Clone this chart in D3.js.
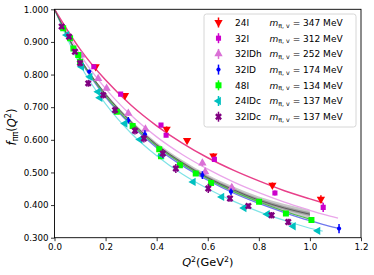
<!DOCTYPE html>
<html><head><meta charset="utf-8">
<script src="https://cdn.jsdelivr.net/npm/d3@7"></script>
<style>body{margin:0;background:#fff}svg{display:block}</style>
</head><body><svg id="c" width="374" height="275"></svg>
<script>
// ---- data ----
const xTicks = [0.0, 0.2, 0.4, 0.6, 0.8, 1.0, 1.2];
const yTicks = [0.3, 0.4, 0.5, 0.6, 0.7, 0.8, 0.9, 1.0];

const ensembles = ["24I", "32I", "32IDh", "32ID", "48I", "24IDc", "32IDc"];
const pionMass = [347, 312, 252, 174, 134, 137, 137];

const q2_24I = [0.161, 0.276, 0.439, 0.519, 0.622, 0.853, 1.043];
const f_24I  = [0.824, 0.736, 0.633, 0.598, 0.551, 0.461, 0.418];
const e_24I  = [0.006, 0.006, 0.008, 0.006, 0.008, 0.008, 0.012];

const q2_32I = [0.154, 0.259, 0.417, 0.437, 0.626, 0.863, 1.052];
const f_32I  = [0.824, 0.740, 0.645, 0.614, 0.540, 0.437, 0.393];
const e_32I  = [0.005, 0.006, 0.006, 0.006, 0.008, 0.008, 0.014];

const q2_32IDh = [0.105, 0.171, 0.204, 0.289, 0.356, 0.579, 0.590, 0.694];
const f_32IDh  = [0.860, 0.788, 0.758, 0.681, 0.633, 0.529, 0.502, 0.454];
const e_32IDh  = [0.008, 0.008, 0.008, 0.008, 0.008, 0.010, 0.010, 0.010];

const q2_32ID = [0.136, 0.289, 0.354, 0.579, 0.691, 1.114];
const f_32ID  = [0.809, 0.660, 0.617, 0.492, 0.441, 0.328];
const e_32ID  = [0.006, 0.010, 0.012, 0.012, 0.010, 0.014];

const q2_48I = [0.034, 0.061, 0.074, 0.093, 0.100, 0.244, 0.306, 0.410, 0.417, 0.491, 0.553, 0.613, 0.801, 0.906, 1.006];
const f_48I  = [0.942, 0.911, 0.880, 0.860, 0.839, 0.686, 0.642, 0.571, 0.550, 0.522, 0.497, 0.468, 0.410, 0.374, 0.354];
const e_48I  = [0.004, 0.004, 0.004, 0.004, 0.004, 0.005, 0.005, 0.005, 0.005, 0.005, 0.005, 0.005, 0.005, 0.005, 0.005];

const q2_24IDc = [0.048, 0.106, 0.139, 0.171, 0.178, 0.276, 0.335, 0.420, 0.543, 0.655, 0.742, 0.833, 0.935, 1.031];
const f_24IDc  = [0.921, 0.824, 0.793, 0.747, 0.729, 0.650, 0.601, 0.553, 0.471, 0.425, 0.391, 0.372, 0.335, 0.321];
const e_24IDc  = [0.004, 0.005, 0.005, 0.005, 0.005, 0.005, 0.005, 0.005, 0.005, 0.005, 0.005, 0.005, 0.005, 0.005];

const q2_32IDc = [0.028, 0.057, 0.080, 0.100, 0.132, 0.191, 0.237, 0.315, 0.350, 0.424, 0.475, 0.602, 0.687, 0.759, 0.850, 0.915];
const f_32IDc  = [0.947, 0.916, 0.870, 0.835, 0.773, 0.737, 0.691, 0.628, 0.604, 0.558, 0.512, 0.451, 0.420, 0.397, 0.369, 0.348];
const e_32IDc  = [0.006, 0.008, 0.008, 0.010, 0.010, 0.010, 0.012, 0.012, 0.012, 0.014, 0.014, 0.014, 0.010, 0.008, 0.010, 0.010];

// fitted curves
const fitQ2     = [0, 0.1, 0.2, 0.3, 0.4, 0.5, 0.6, 0.7, 0.8, 0.9, 1.0, 1.05, 1.11];
const fit_24I   = [1, 0.878, 0.783, 0.706, 0.643, 0.590, 0.545, 0.507, 0.474, 0.444, 0.419, 0.407, null];
const fit_32IDh = [1, 0.862, 0.757, 0.675, 0.609, 0.555, 0.510, 0.471, 0.438, 0.409, 0.384, 0.372, 0.360];
const fit_32ID  = [1, 0.845, 0.731, 0.645, 0.576, 0.521, 0.476, 0.437, 0.405, 0.377, 0.352, 0.341, 0.329];
const fit_48I   = [1, 0.847, 0.735, 0.649, 0.581, 0.526, 0.481, 0.442, 0.410, 0.381, 0.357, null, null];
const fit_24IDc = [1, 0.830, 0.710, 0.620, 0.551, 0.495, 0.450, 0.412, 0.380, 0.353, 0.329, 0.320, null];
const band_mid  = [1, 0.850, 0.740, 0.655, 0.585, 0.530, 0.484, 0.447, 0.415, 0.391, 0.372, null, null];
const band_half = [0, 0.002, 0.004, 0.005, 0.007, 0.008, 0.009, 0.010, 0.011, 0.012, 0.013, null, null];

// ---- chart ----
const svg = d3.select("#c");
const L = 54.5, R = 361, T = 9.3, B = 237.7;
const x = d3.scaleLinear().domain([0, 1.2]).range([L, R]);
const y = d3.scaleLinear().domain([0.3, 1.0]).range([B, T]);
const FONT = "DejaVu Sans, sans-serif";

svg.append("clipPath").attr("id", "clp").append("rect")
  .attr("x", L).attr("y", T).attr("width", R - L).attr("height", B - T);
const plot = svg.append("g").attr("clip-path", "url(#clp)");

// band
const bandIdx = fitQ2.map((d, i) => i).filter(i => band_mid[i] !== null);
const area = (k) => d3.area().x(i => x(fitQ2[i]))
  .y0(i => y(band_mid[i] - k * band_half[i])).y1(i => y(band_mid[i] + k * band_half[i]))
  .curve(d3.curveMonotoneX);
plot.append("path").datum(bandIdx).attr("d", area(1)).attr("fill", "#b0b0b0").attr("opacity", 0.7);
plot.append("path").datum(bandIdx).attr("d", area(0.45)).attr("fill", "#808080").attr("opacity", 0.6);

const lineGen = (arr) => d3.line().defined(i => arr[i] !== null)
  .x(i => x(fitQ2[i])).y(i => y(arr[i])).curve(d3.curveMonotoneX);
const idx = fitQ2.map((d, i) => i);
const fits = [
  [fit_32IDh, "#eaa6ea", 1.3],
  [fit_24IDc, "#7fe3e6", 1.2],
  [fit_32ID, "#6f78ee", 1.3],
  [fit_48I, "#4fb84f", 1.2],
  [fit_24I, "#e8408a", 1.5],
  [band_mid, "#555555", 0.9]
];
fits.forEach(([arr, col, w]) => {
  plot.append("path").datum(idx).attr("d", lineGen(arr))
    .attr("fill", "none").attr("stroke", col).attr("stroke-width", w);
});

// markers
const sym = {
  down: [d3.symbolTriangle, 30, 180],
  sq: [d3.symbolSquare, 26, 0],
  up: [d3.symbolTriangle, 30, 0],
  dia: [d3.symbolCircle, 14, 0],
  sqg: [d3.symbolSquare, 36, 0],
  left: [d3.symbolTriangle, 30, -90],
  x: [d3.symbolCross, 30, 45]
};
const series = [
  [q2_24I, f_24I, e_24I, "#ff0000", "down"],
  [q2_32I, f_32I, e_32I, "#cc00cc", "sq"],
  [q2_32IDh, f_32IDh, e_32IDh, "#da70d6", "up"],
  [q2_32ID, f_32ID, e_32ID, "#0000ff", "dia"],
  [q2_48I, f_48I, e_48I, "#00ff00", "sqg"],
  [q2_24IDc, f_24IDc, e_24IDc, "#00c0c0", "left"],
  [q2_32IDc, f_32IDc, e_32IDc, "#800080", "x"]
];
const symPath = (k) => d3.symbol().type(sym[k][0]).size(sym[k][1])();

series.forEach(([qs, fs, es, col, k]) => {
  const g = plot.append("g");
  qs.forEach((q, i) => {
    g.append("line").attr("x1", x(q)).attr("x2", x(q))
      .attr("y1", y(fs[i] - es[i])).attr("y2", y(fs[i] + es[i]))
      .attr("stroke", col).attr("stroke-width", 1.5);
    g.append("path").attr("d", symPath(k))
      .attr("transform", `translate(${x(q)},${y(fs[i])}) rotate(${sym[k][2]})`)
      .attr("fill", col);
  });
});

// frame
svg.append("rect").attr("x", L).attr("y", T).attr("width", R - L).attr("height", B - T)
  .attr("fill", "none").attr("stroke", "#000").attr("stroke-width", 0.9);

// axes
const xa = svg.append("g").attr("transform", `translate(0,${B})`)
  .call(d3.axisBottom(x).tickValues(xTicks).tickFormat(d3.format(".1f")).tickSize(3.5).tickPadding(2.5));
const ya = svg.append("g").attr("transform", `translate(${L},0)`)
  .call(d3.axisLeft(y).tickValues(yTicks).tickFormat(d3.format(".3f")).tickSize(3.5).tickPadding(2.5));
[xa, ya].forEach(a => {
  a.select(".domain").remove();
  a.selectAll("line").attr("stroke", "#000").attr("stroke-width", 0.8);
  a.selectAll("text").attr("font-family", FONT).attr("font-size", 8.7).attr("fill", "#000");
});

// axis labels
const xl = svg.append("text").attr("x", (L + R) / 2).attr("y", 266).attr("text-anchor", "middle")
  .attr("font-family", FONT).attr("font-size", 11.3);
xl.append("tspan").attr("font-style", "italic").text("Q");
xl.append("tspan").attr("font-size", 7.8).attr("dy", -4.3).text("2");
xl.append("tspan").attr("dy", 4.3).text("(GeV");
xl.append("tspan").attr("font-size", 7.8).attr("dy", -4.3).text("2");
xl.append("tspan").attr("dy", 4.3).text(")");

const yl = svg.append("text").attr("transform", "translate(15.5,127) rotate(-90)")
  .attr("text-anchor", "middle").attr("font-family", FONT).attr("font-size", 11.5);
yl.append("tspan").attr("font-style", "italic").text("f");
yl.append("tspan").attr("font-size", 8).attr("dy", 2.5).text("ππ");
yl.append("tspan").attr("dy", -2.5).text("(");
yl.append("tspan").attr("font-style", "italic").text("Q");
yl.append("tspan").attr("font-size", 8).attr("dy", -4.5).text("2");
yl.append("tspan").attr("dy", 4.5).text(")");

// legend
const lg = svg.append("g");
lg.append("rect").attr("x", 204).attr("y", 14).attr("width", 152).attr("height", 113)
  .attr("rx", 2.5).attr("fill", "#fff").attr("fill-opacity", 0.85)
  .attr("stroke", "#cccccc").attr("stroke-width", 0.8);
const rowY0 = 22.5, rowDy = 15.7;
ensembles.forEach((name, i) => {
  const [qs, fs, es, col, k] = series[i];
  const cy = rowY0 + i * rowDy;
  lg.append("line").attr("x1", 218.5).attr("x2", 218.5).attr("y1", cy - 5).attr("y2", cy + 5)
    .attr("stroke", col).attr("stroke-width", 1.5);
  lg.append("path").attr("d", symPath(k))
    .attr("transform", `translate(218.5,${cy}) rotate(${sym[k][2]})`).attr("fill", col);
  const t = lg.append("text").attr("x", 235).attr("y", cy + 3.3)
    .attr("font-family", FONT).attr("font-size", 9).attr("fill", "#000").text(name);
  const w = t.node().getComputedTextLength();
  const mx = Math.max(269.5, 235 + w + 3.5);
  const m = lg.append("text").attr("x", mx).attr("y", cy + 3.3)
    .attr("font-family", FONT).attr("font-size", 9).attr("fill", "#000");
  m.append("tspan").attr("font-style", "italic").text("m");
  m.append("tspan").attr("font-size", 6.3).attr("dy", 1.8).text("π, v");
  m.append("tspan").attr("dy", -1.8).text(" = " + pionMass[i] + " MeV");
});
</script>
</body></html>
